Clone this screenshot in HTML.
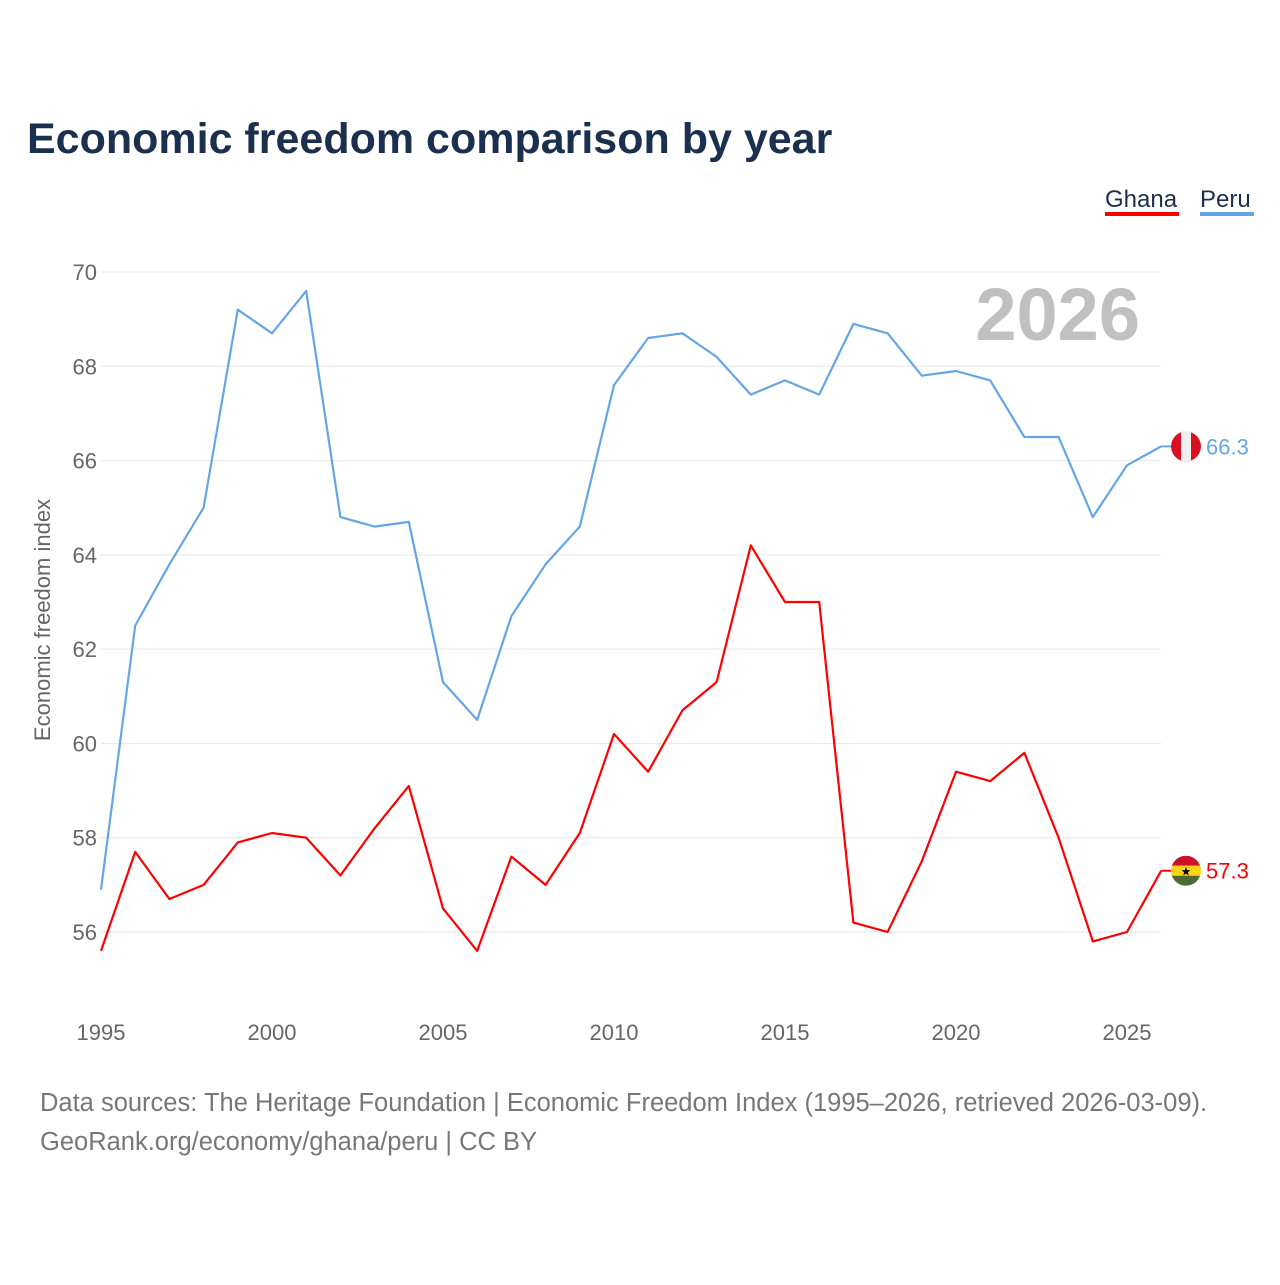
<!DOCTYPE html>
<html><head><meta charset="utf-8"><style>
body{margin:0;background:#fff;font-family:"Liberation Sans",sans-serif;}
svg text{font-family:"Liberation Sans",sans-serif;}
</style></head><body>
<svg id="chart" width="1280" height="1280" xmlns="http://www.w3.org/2000/svg">
<text x="27" y="153" font-size="43" font-weight="bold" fill="#1b2f4e">Economic freedom comparison by year</text>
<g>
<text x="1105" y="207" font-size="24" fill="#1b2f4e">Ghana</text>
<rect x="1105" y="212" width="74" height="4" fill="#ff0000"/>
<text x="1200" y="207" font-size="24" fill="#1b2f4e">Peru</text>
<rect x="1200" y="212" width="54" height="4" fill="#63a6e8"/>
</g>
<g id="grid"></g>
<text x="1140" y="340" font-size="74" font-weight="bold" fill="#c0c0c0" text-anchor="end">2026</text>
<text transform="translate(50,620) rotate(-90)" font-size="22" fill="#666" text-anchor="middle">Economic freedom index</text>
<g id="series"></g>
<text x="40" y="1111" font-size="25.5" fill="#777">Data sources: The Heritage Foundation | Economic Freedom Index (1995–2026, retrieved 2026-03-09).</text>
<text x="40" y="1150" font-size="25.5" fill="#777">GeoRank.org/economy/ghana/peru | CC BY</text>
</svg>
<script>
const years=[1995,1996,1997,1998,1999,2000,2001,2002,2003,2004,2005,2006,2007,2008,2009,2010,2011,2012,2013,2014,2015,2016,2017,2018,2019,2020,2021,2022,2023,2024,2025,2026];
const peru=[56.9,62.5,63.8,65.0,69.2,68.7,69.6,64.8,64.6,64.7,61.3,60.5,62.7,63.8,64.6,67.6,68.6,68.7,68.2,67.4,67.7,67.4,68.9,68.7,67.8,67.9,67.7,66.5,66.5,64.8,65.9,66.3];
const ghana=[55.6,57.7,56.7,57.0,57.9,58.1,58.0,57.2,58.2,59.1,56.5,55.6,57.6,57.0,58.1,60.2,59.4,60.7,61.3,64.2,63.0,63.0,56.2,56.0,57.5,59.4,59.2,59.8,58.0,55.8,56.0,57.3];
const yTicks=[56,58,60,62,64,66,68,70];
const xTicks=[1995,2000,2005,2010,2015,2020,2025];
const NS="http://www.w3.org/2000/svg";
function xs(y){return 101+(y-1995)*(1127-101)/30;}
function ys(v){return 272+(70-v)*(932-272)/14;}
function mk(t,a,p){const e=document.createElementNS(NS,t);for(const k in a)e.setAttribute(k,a[k]);p.appendChild(e);return e;}
const grid=document.getElementById('grid');
yTicks.forEach(v=>{
 const l=mk('line',{x1:101,x2:1161,y1:ys(v),y2:ys(v),stroke:'#e6e6e6','stroke-width':1},grid);
 
 
 const t=mk('text',{x:97,y:ys(v)+8,'font-size':22,fill:'#666','text-anchor':'end'},grid);
 t.textContent=v;
 
 
});
xTicks.forEach(v=>{
 const t=mk('text',{x:xs(v),y:1040,'font-size':22,fill:'#666','text-anchor':'middle'},grid);
 t.textContent=v;
 
 
});
const s=document.getElementById('series');
function line(vals,color,name){
 const d=vals.map((v,i)=>(i?'L':'M')+xs(years[i]).toFixed(1)+','+ys(v).toFixed(1)).join(' ');
 const p=mk('path',{d:d,fill:'none',stroke:color,'stroke-width':2.2,'stroke-linejoin':'round'},s);
 
 
 const last=vals[vals.length-1];const lx=xs(years[years.length-1]);const ly=ys(last);
 const c=mk('line',{x1:lx,x2:lx+12,y1:ly,y2:ly,stroke:color,'stroke-width':2},s);
 
 
 const t=mk('text',{x:1206,y:ly+8,'font-size':22,fill:color},s);
 t.textContent=last.toFixed(1);
 
 
 return ly;
}
const py=line(peru,'#63a6e8','peru');
const gy=line(ghana,'#ff0000','ghana');
const defs=mk('defs',{},s);
const cp1=mk('clipPath',{id:'cp1'},defs);mk('circle',{cx:1186,cy:py,r:15},cp1);
const cp2=mk('clipPath',{id:'cp2'},defs);mk('circle',{cx:1186,cy:gy,r:15},cp2);
const fp=mk('g',{'clip-path':'url(#cp1)'},s);


mk('rect',{x:1171,y:py-15,width:30,height:30,fill:'#d91023'},fp);
mk('rect',{x:1181,y:py-15,width:10,height:30,fill:'#f0f0f0'},fp);
const fg=mk('g',{'clip-path':'url(#cp2)'},s);


mk('rect',{x:1171,y:gy-15,width:30,height:10,fill:'#ce1126'},fg);
mk('rect',{x:1171,y:gy-5,width:30,height:10,fill:'#fcd116'},fg);
mk('rect',{x:1171,y:gy+5,width:30,height:10,fill:'#4f6b35'},fg);
const st=mk('text',{x:1186,y:gy+5,'font-size':12,'text-anchor':'middle',fill:'#000'},fg);st.textContent='★';
</script>
</body></html>
